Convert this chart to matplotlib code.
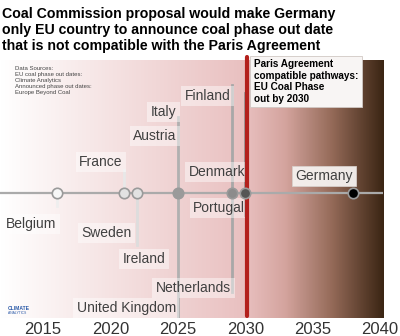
import numpy as np
import matplotlib.pyplot as plt
from matplotlib.colors import LinearSegmentedColormap

plt.rcParams['font.family'] = ['Liberation Sans', 'DejaVu Sans']

# Announced coal phase-out years
countries = ['Belgium', 'France', 'Sweden', 'Italy', 'Austria', 'Ireland',
             'United Kingdom', 'Finland', 'Netherlands', 'Denmark', 'Portugal',
             'Germany']
phase_out = [2016, 2021, 2022, 2025, 2025, 2025, 2025, 2029, 2029, 2030, 2030,
             2038]
paris_year = 2030
tick_years = [2015, 2020, 2025, 2030, 2035, 2040]

# label layout: (row in pixels from top, x shift in years for the right edge)
label_pos = {
    'Finland': (96, -0.1), 'Italy': (112, -0.1), 'Austria': (136, -0.1),
    'France': (162, -0.1), 'Denmark': (172, 0.0), 'Germany': (176, 0.0),
    'Belgium': (224, 0.0), 'Sweden': (233, -0.45), 'Portugal': (208, 0.0),
    'Ireland': (259, -0.95), 'Netherlands': (288, -0.05),
    'United Kingdom': (308, -0.15),
}
# vertical connectors per year: (top row, bottom row, colour)
connectors = {
    2016: (193, 206, '#eeeeee'), 2021: (170, 193, '#e8e8e8'),
    2022: (193, 245, '#dddddd'), 2025: (117, 318, '#b0b0b0'),
    2029: (85, 292, '#a8a8a8'), 2030: (93, 215, '#999999'),
}
marker_fill = {2016: '#f7f7f7', 2021: '#e2e2e2', 2022: '#e2e2e2',
               2025: '#9a9a9a', 2029: '#8c8c8c', 2030: '#555555',
               2038: '#000000'}

fig = plt.figure(figsize=(4, 3.36), dpi=100)
ax = fig.add_axes([0, 1 - 318 / 336, 384 / 400, 258 / 336])
x0, x1 = 2011.8, 2040.3
ax.set_xlim(x0, x1)
ax.set_ylim(318, 60)

# background gradient white -> pink -> dark brown
stops = [(0.0, '#ffffff'), ((2030 - x0) / (x1 - x0), '#e9c0c0'),
         ((2033 - x0) / (x1 - x0), '#d4a49e'), ((2036.5 - x0) / (x1 - x0), '#946a58'),
         (1.0, '#3b2514')]
cmap = LinearSegmentedColormap.from_list('bg', stops)
grad = np.linspace(0, 1, 512).reshape(1, -1)
ax.imshow(grad, cmap=cmap, aspect='auto', extent=[x0, x1, 318, 60], zorder=0)

timeline_y = 193
ax.plot([x0, 2040.2], [timeline_y, timeline_y], color='#aaaaaa', lw=1.6,
        zorder=2, solid_capstyle='butt')

for yr, (top, bottom, col) in connectors.items():
    ax.plot([yr, yr], [top, bottom], color=col, lw=2, zorder=2)

ax.plot([paris_year + 0.1, paris_year + 0.1], [57, 316], color='#b3201c', lw=3,
        solid_capstyle='round', zorder=4, clip_on=False)

for yr in sorted(set(phase_out)):
    ax.plot(yr, timeline_y, 'o', ms=7.5, mfc=marker_fill[yr], mec='#9a9a9a',
            mew=1.2, zorder=5)

for name, yr in zip(countries, phase_out):
    row, dx = label_pos[name]
    if name == 'Germany':
        box = dict(boxstyle='square,pad=0.25', fc='#f6f2f0', ec='#d8d0cc',
                   lw=0.6, alpha=0.95)
    else:
        box = dict(boxstyle='square,pad=0.25', fc='white', ec='none', alpha=0.45)
    ax.text(yr + dx, row, name, ha='right', va='center', fontsize=10,
            color='#404040', bbox=box, zorder=3)

ax.text(2012.9, 66, 'Data Sources:\nEU coal phase out dates:\nClimate Analytics\n'
        'Announced phase out dates:\nEurope Beyond Coal', fontsize=4.3,
        color='#444444', va='top', ha='left', linespacing=1.25, zorder=3)

ax.text(2030.65, 59, 'Paris Agreement\ncompatible pathways:\nEU Coal Phase\nout by 2030',
        fontsize=7.2, fontweight='bold', color='black', va='top', ha='left',
        linespacing=1.2, zorder=6,
        bbox=dict(boxstyle='square,pad=0.35', fc='#f8f5f4', ec='#d0c8c4', lw=0.6))

# small logo in the lower left
ax.text(2012.4, 309, 'CLIMATE', fontsize=3.6, fontweight='bold', color='#2b5aa8',
        ha='left', va='center', zorder=3)
ax.text(2012.4, 313.5, 'ANALYTICS', fontsize=2.4, color='#2b5aa8', ha='left',
        va='center', zorder=3)

ax.set_xticks(tick_years)
ax.set_xticklabels([str(t) for t in tick_years], fontsize=12, color='#333333')
ax.tick_params(axis='x', length=0, pad=3)
ax.set_yticks([])
for s in ax.spines.values():
    s.set_visible(False)

fig.text(0.005, 0.979, 'Coal Commission proposal would make Germany\n'
         'only EU country to announce coal phase out date\n'
         'that is not compatible with the Paris Agreement',
         fontsize=10.2, fontweight='bold', color='black', ha='left', va='top',
         linespacing=1.2)

fig.savefig('out.png', dpi=100)
